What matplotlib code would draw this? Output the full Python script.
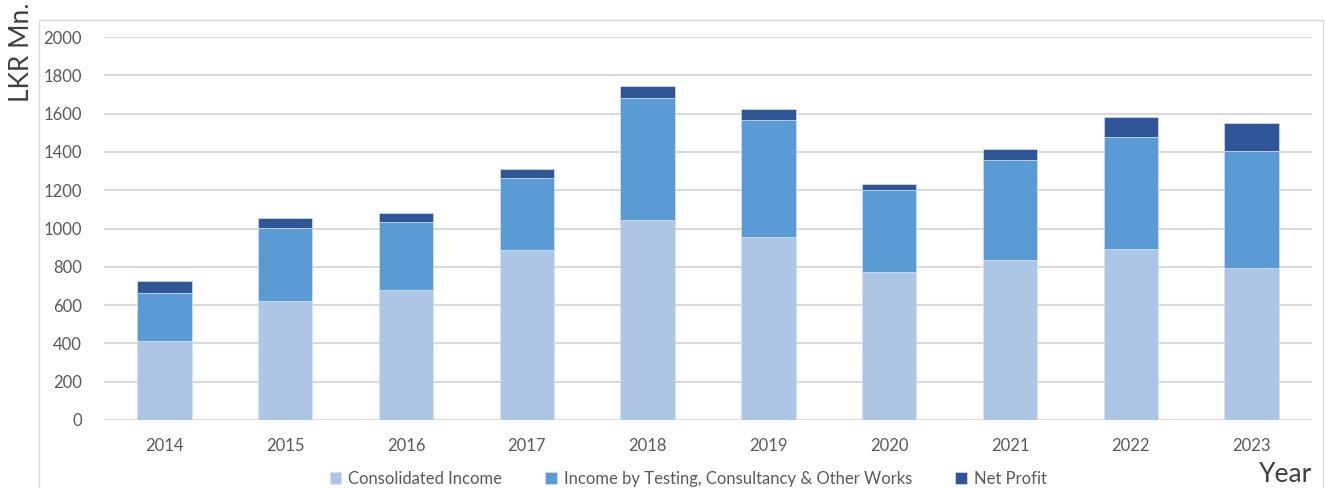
import matplotlib.pyplot as plt
import matplotlib.patches as mpatches
import numpy as np

years = ["2014", "2015", "2016", "2017", "2018", "2019", "2020", "2021", "2022", "2023"]
consolidated = [413, 620, 679, 888, 1046, 956, 771, 837, 891, 792]
testing = [249, 383, 353, 378, 634, 609, 430, 523, 587, 611]
net_profit = [64, 54, 47, 43, 63, 58, 30, 57, 103, 147]

labels = ["Consolidated Income", "Income by Testing, Consultancy & Other Works", "Net Profit"]
colors = ["#aec6e5", "#5b9bd5", "#2f5597"]

plt.rcParams['font.family'] = ['Lato', 'DejaVu Sans']

W, H = 1325, 488
fig = plt.figure(figsize=(W / 100, H / 100), dpi=100)
ax = fig.add_axes([104 / W, 1 - 420 / H, (1312 - 104) / W, (420 - 37) / H])

# outer chart frame
fig.patches.append(mpatches.Rectangle((39 / W, -0.05), (1323 - 39) / W, 1 - 20 / H + 0.05,
                                      transform=fig.transFigure, fill=False,
                                      edgecolor="#d9d9d9", linewidth=1))

x = np.arange(len(years))
bottom = np.zeros(len(years))
for vals, lab, col in zip([consolidated, testing, net_profit], labels, colors):
    ax.bar(x, vals, width=0.45, bottom=bottom, color=col, label=lab,
           edgecolor="#d6e2f2", linewidth=0.5, zorder=3)
    bottom += np.array(vals)

ax.set_xlim(-0.5, len(years) - 0.5)
ax.set_ylim(0, 2000)
ax.set_yticks(range(0, 2001, 200))
ax.set_xticks(x)
ax.set_xticklabels(years)
ax.grid(axis="y", color="#d9d9d9", linewidth=1.5, zorder=0)
for s in ax.spines.values():
    s.set_visible(False)
ax.tick_params(axis="both", length=0, labelsize=12, colors="#595959")
ax.tick_params(axis="y", pad=16)
ax.tick_params(axis="x", pad=13)

fig.text(22 / W, 1 - 52 / H, "LKR Mn.", rotation=90, ha="center", va="center",
         fontsize=19, fontweight="normal", color="#404040")
fig.text(1286 / W, 1 - 474 / H, "Year", ha="center", va="center",
         fontsize=19, fontweight="normal", color="#404040")

fig.legend(loc="center", bbox_to_anchor=(688 / W, 1 - 479 / H), ncol=3, frameon=False,
           fontsize=12, handlelength=0.7, handleheight=0.7, handletextpad=0.4,
           columnspacing=2.6, labelcolor="#595959")

fig.savefig("out.png", dpi=100)
